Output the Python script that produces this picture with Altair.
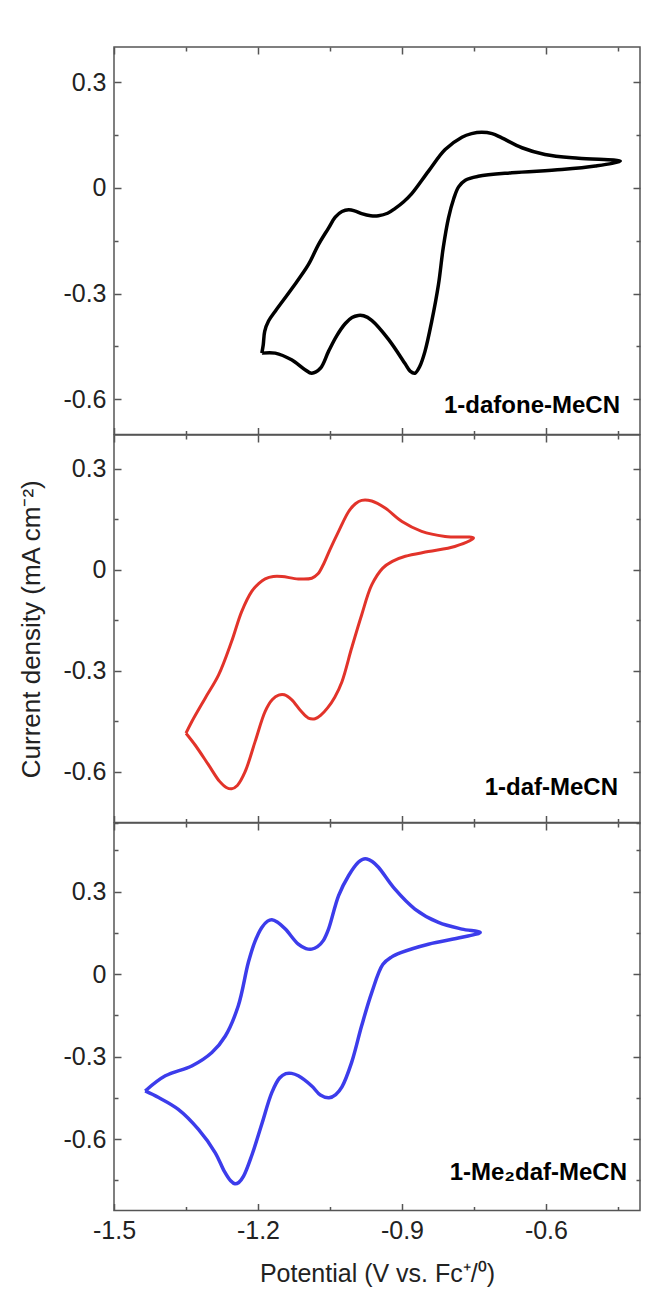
import altair as alt
import pandas as pd

# ---- data (potential in V, current density in mA cm^-2) ----
X_TOP = [-1.192, -1.189, -1.186, -1.178, -1.164, -1.130, -1.095, -1.074, -1.053, -1.039,
         -1.025, -1.011, -0.997, -0.984, -0.965, -0.949, -0.930, -0.914, -0.897, -0.880,
         -0.845, -0.810, -0.775, -0.755, -0.734, -0.712, -0.692, -0.650, -0.602, -0.532,
         -0.445,
         -0.497, -0.567, -0.671, -0.741, -0.768, -0.782, -0.792, -0.803, -0.814, -0.824,
         -0.838, -0.852, -0.863, -0.873, -0.883, -0.893, -0.928, -0.963, -0.980, -0.991,
         -1.004, -1.018, -1.036, -1.053, -1.070, -1.088, -1.102, -1.130, -1.164, -1.192]
Y_TOP = [-0.469, -0.445, -0.407, -0.378, -0.350, -0.287, -0.218, -0.161, -0.114, -0.083,
         -0.067, -0.062, -0.066, -0.073, -0.079, -0.079, -0.072, -0.058, -0.040, -0.017,
         0.047, 0.109, 0.144, 0.154, 0.158, 0.154, 0.142, 0.114, 0.095, 0.084,
         0.076,
         0.062, 0.052, 0.043, 0.033, 0.022, 0.003, -0.030, -0.085, -0.170, -0.275,
         -0.379, -0.464, -0.507, -0.526, -0.520, -0.500, -0.430, -0.376, -0.363, -0.362,
         -0.368, -0.385, -0.420, -0.464, -0.512, -0.526, -0.516, -0.488, -0.469, -0.469]

X_MID = [-1.350, -1.338, -1.310, -1.282, -1.255, -1.234, -1.213, -1.198, -1.185, -1.168,
         -1.150, -1.116, -1.088, -1.075, -1.064, -1.050, -1.032, -1.011, -0.997, -0.984,
         -0.963, -0.935, -0.900, -0.859, -0.810, -0.751,
         -0.790, -0.845, -0.893, -0.920, -0.940, -0.963, -0.984, -1.005, -1.025, -1.040,
         -1.055, -1.068, -1.081, -1.095, -1.110, -1.130, -1.145, -1.157, -1.170, -1.185,
         -1.206, -1.227, -1.243, -1.255, -1.266, -1.280, -1.303, -1.331, -1.350]
Y_MID = [-0.485, -0.451, -0.381, -0.312, -0.213, -0.124, -0.064, -0.040, -0.027, -0.020,
         -0.020, -0.027, -0.025, -0.012, 0.015, 0.060, 0.114, 0.173, 0.196, 0.206,
         0.204, 0.183, 0.143, 0.114, 0.099, 0.094,
         0.069, 0.054, 0.040, 0.025, 0.005, -0.045, -0.134, -0.233, -0.332, -0.378,
         -0.410, -0.430, -0.442, -0.440, -0.420, -0.385, -0.371, -0.372, -0.385, -0.420,
         -0.510, -0.600, -0.640, -0.650, -0.646, -0.628, -0.579, -0.520, -0.485]

X_BOT = [-1.435, -1.393, -1.338, -1.296, -1.268, -1.241, -1.220, -1.206, -1.192, -1.180,
         -1.171, -1.160, -1.143, -1.116, -1.100, -1.088, -1.076, -1.064, -1.053, -1.032,
         -1.011, -0.991, -0.982, -0.973, -0.962, -0.949, -0.915, -0.873, -0.824, -0.775,
         -0.737,
         -0.775, -0.845, -0.901, -0.922, -0.940, -0.963, -0.984, -1.005, -1.025, -1.038,
         -1.052, -1.070, -1.088, -1.116, -1.130, -1.142, -1.155, -1.171, -1.192, -1.213,
         -1.230, -1.240, -1.248, -1.257, -1.270, -1.289, -1.324, -1.366, -1.407, -1.435]
Y_BOT = [-0.425, -0.370, -0.334, -0.285, -0.225, -0.115, 0.043, 0.120, 0.170, 0.193,
         0.198, 0.190, 0.164, 0.109, 0.093, 0.091, 0.100, 0.122, 0.164, 0.286,
         0.359, 0.407, 0.418, 0.419, 0.410, 0.389, 0.310, 0.237, 0.188, 0.164,
         0.152,
         0.134, 0.109, 0.079, 0.062, 0.035, -0.067, -0.188, -0.322, -0.410, -0.438,
         -0.450, -0.440, -0.407, -0.370, -0.361, -0.362, -0.378, -0.430, -0.545, -0.660,
         -0.735, -0.758, -0.763, -0.752, -0.718, -0.650, -0.565, -0.492, -0.449, -0.425]

LABELS = ["1-dafone-MeCN", "1-daf-MeCN", "1-Me\u2082daf-MeCN"]
COLORS = ["#000000", "#E2332A", "#3C3CEB"]
WIDTHS = [3.5, 3.0, 3.5]
Y_DOMAINS = [[-0.70, 0.40], [-0.75, 0.40], [-0.86, 0.55]]
X_DOMAIN = [-1.5, -0.404]
X_MAJOR = [-1.5, -1.2, -0.9, -0.6]
X_MINOR = [-1.35, -1.05, -0.75, -0.45]
Y_MAJOR = [-0.6, -0.3, 0, 0.3]
Y_MINOR = [-0.75, -0.45, -0.15, 0.15, 0.45]
X_TITLE = "Potential (V vs. Fc\u207a/\u2070)"
Y_TITLE = "Current density (mA cm\u207b\u00b2)"

XS = [X_TOP, X_MID, X_BOT]
YS = [Y_TOP, Y_MID, Y_BOT]

# ---- style ----
W, H = 526, 387.5
FONT = "Liberation Sans"
FRAME = "#555555"
TEXT = "#222222"
MAJOR_TEST = "abs(round(datum.value*100)) % 30 == 0"
TICK_SIZE = {"condition": {"test": MAJOR_TEST, "value": 7}, "value": 4}
NUM_LABEL = "datum.value == 0 ? '0' : (datum.value < 0 ? '-' + format(-datum.value, '.1f') : format(datum.value, '.1f'))"


def tick_axis(orient, values, offset):
    return alt.Axis(orient=orient, values=values, offset=offset, tickSize=TICK_SIZE,
                    tickColor=FRAME, tickWidth=1.5, labels=False, domain=False,
                    grid=False, title=None)


def panel(k):
    df = pd.DataFrame({"E": XS[k], "j": YS[k], "i": list(range(len(XS[k])))})
    lo, hi = Y_DOMAINS[k]
    yvals = sorted(v for v in Y_MAJOR + Y_MINOR if lo <= v <= hi)
    xvals = sorted(X_MAJOR + X_MINOR)
    xsc = alt.Scale(domain=X_DOMAIN, nice=False, zero=False)
    ysc = alt.Scale(domain=[lo, hi], nice=False, zero=False)
    base = alt.Chart(df)

    if k == 2:
        x_axis = alt.Axis(values=X_MAJOR, ticks=False, domain=False, grid=False,
                          labelExpr=NUM_LABEL, labelPadding=8, labelFlush=False,
                          title=X_TITLE, titlePadding=18)
    else:
        x_axis = None
    y_kw = dict(values=Y_MAJOR, ticks=False, domain=False, grid=False,
                labelExpr=NUM_LABEL, labelPadding=8, labelFlush=False)
    if k == 1:
        y_kw.update(title=Y_TITLE, titlePadding=18, titleFontSize=26)
    else:
        y_kw.update(title=None)
    y_axis = alt.Axis(**y_kw)

    line = base.mark_line(color=COLORS[k], strokeWidth=WIDTHS[k],
                          interpolate="catmull-rom").encode(
        x=alt.X("E:Q", scale=xsc, axis=x_axis),
        y=alt.Y("j:Q", scale=ysc, axis=y_axis),
        order="i:Q",
    )
    # inward ticks on the four sides of the frame
    yt_left = base.mark_point(opacity=0).encode(
        x=alt.X("E:Q", scale=xsc, axis=None),
        y=alt.Y("j:Q", scale=ysc, axis=tick_axis("right", yvals, -W)),
    )
    yt_right = base.mark_point(opacity=0).encode(
        x=alt.X("E:Q", scale=xsc, axis=None),
        y=alt.Y("j:Q", scale=ysc, axis=tick_axis("left", yvals, -W)),
    )
    xt_bottom = base.mark_point(opacity=0).encode(
        x=alt.X("E:Q", scale=xsc, axis=tick_axis("top", xvals, -H)),
        y=alt.Y("j:Q", scale=ysc, axis=None),
    )
    xt_top = base.mark_point(opacity=0).encode(
        x=alt.X("E:Q", scale=xsc, axis=tick_axis("bottom", xvals, -H)),
        y=alt.Y("j:Q", scale=ysc, axis=None),
    )
    label_pos = [(W - 20, H - 22), (W - 22, H - 28), (W - 13, H - 31)][k]
    label = alt.Chart(pd.DataFrame({"t": [LABELS[k]]})).mark_text(
        font=FONT, fontSize=24, fontWeight="bold", color="#000000",
        align="right", baseline="alphabetic",
    ).encode(text="t:N", x=alt.value(label_pos[0]), y=alt.value(label_pos[1]))

    return alt.layer(line, yt_left, yt_right, xt_bottom, xt_top, label).resolve_axis(
        x="independent", y="independent"
    ).properties(width=W, height=H)


chart = alt.vconcat(panel(0), panel(1), panel(2), spacing=0, bounds="flush").properties(
    padding={"left": 18, "top": 45, "right": 5, "bottom": 2},
    background="white",
).configure_view(
    stroke=FRAME, strokeWidth=1.5
).configure_axis(
    labelFont=FONT, labelFontSize=25, labelColor=TEXT,
    titleFont=FONT, titleFontSize=25, titleColor=TEXT, titleFontWeight="normal",
)

chart.save("out.html", embed_options={"renderer": "svg", "actions": False})
